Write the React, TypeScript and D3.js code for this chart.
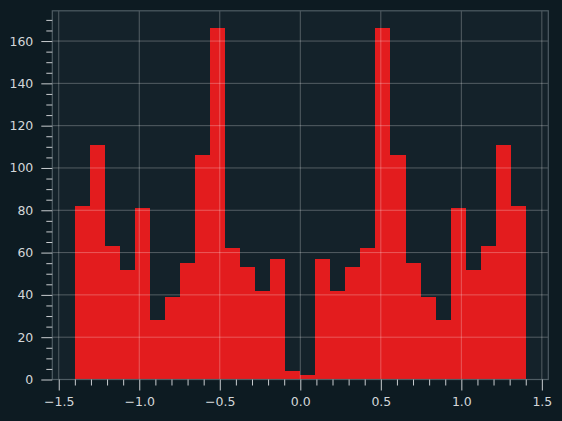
import React, { useRef, useEffect } from "react"
import * as d3 from "d3"

// histogram counts, 30 equal bins between binStart and binEnd
const counts = [
  82, 111, 63, 52, 81, 28, 39, 55, 106, 166, 62, 53, 42, 57, 4,
  2, 57, 42, 53, 62, 166, 106, 55, 39, 28, 81, 52, 63, 111, 82,
]
const binStart = -1.4
const binEnd = 1.4

const xTicks = [-1.5, -1.0, -0.5, 0.0, 0.5, 1.0, 1.5]
const yTicks = [0, 20, 40, 60, 80, 100, 120, 140, 160]
const xMinorStep = 0.1
const yMinorStep = 5

const xDomain: [number, number] = [-1.54, 1.54]
const yDomain: [number, number] = [0, 174.3]

export default function App() {
  const svgRef = useRef<SVGSVGElement>(null)
  const width = 562
  const height = 421

  useEffect(() => {
    if (!svgRef.current) return
    const svg = d3.select(svgRef.current)
    svg.selectAll("*").remove()

    const left = 52.3
    const right = 548.3
    const top = 10.8
    const bottom = 379.5

    const x = d3.scaleLinear().domain(xDomain).range([left, right])
    const y = d3.scaleLinear().domain(yDomain).range([bottom, top])

    const textColor = "#d3d7d9"
    const tickColor = "#c9cdd0"
    const fontSize = 12.5

    svg.append("rect").attr("width", width).attr("height", height).attr("fill", "#0d1b22")

    svg
      .append("rect")
      .attr("x", left)
      .attr("y", top)
      .attr("width", right - left)
      .attr("height", bottom - top)
      .attr("fill", "#14222a")

    // bars
    const binW = (binEnd - binStart) / counts.length
    svg
      .append("g")
      .selectAll("rect")
      .data(counts)
      .enter()
      .append("rect")
      .attr("x", (_, i) => x(binStart + i * binW))
      .attr("width", (_, i) => x(binStart + (i + 1) * binW) - x(binStart + i * binW))
      .attr("y", (d) => y(d))
      .attr("height", (d) => y(0) - y(d))
      .attr("fill", "#e31c1e")
      .attr("shape-rendering", "crispEdges")

    // grid on top of bars
    const grid = svg.append("g").attr("stroke", "#ffffff").attr("stroke-opacity", 0.3).attr("stroke-width", 0.9)
    grid
      .selectAll(".gx")
      .data(xTicks)
      .enter()
      .append("line")
      .attr("x1", (d) => x(d))
      .attr("x2", (d) => x(d))
      .attr("y1", top)
      .attr("y2", bottom)
    grid
      .selectAll(".gy")
      .data(yTicks)
      .enter()
      .append("line")
      .attr("x1", left)
      .attr("x2", right)
      .attr("y1", (d) => y(d))
      .attr("y2", (d) => y(d))

    // spines
    svg
      .append("rect")
      .attr("x", left)
      .attr("y", top)
      .attr("width", right - left)
      .attr("height", bottom - top)
      .attr("fill", "none")
      .attr("stroke", "#4f5d64")
      .attr("stroke-width", 1.2)

    const xMinor = d3.range(-15, 16).map((k) => k * xMinorStep).filter((v) => !xTicks.some((t) => Math.abs(t - v) < 1e-9))
    const yMinor = d3.range(0, 35).map((k) => k * yMinorStep).filter((v) => v % 20 !== 0 && v <= yDomain[1])

    const styleAxis = (g: d3.Selection<SVGGElement, unknown, null, undefined>) => {
      g.attr("font-family", "DejaVu Sans").attr("font-size", fontSize)
      g.select(".domain").remove()
      g.selectAll("line").attr("stroke", tickColor).attr("stroke-width", 1)
      g.selectAll("text")
        .attr("fill", textColor)
        .style("font-family", "'DejaVu Sans', sans-serif")
        .style("font-size", `${fontSize}px`)
    }

    svg
      .append("g")
      .attr("transform", `translate(0,${bottom})`)
      .call(d3.axisBottom(x).tickValues(xTicks).tickFormat(d3.format(".1f")).tickSize(11).tickPadding(7))
      .call(styleAxis)
    svg
      .append("g")
      .attr("transform", `translate(0,${bottom})`)
      .call(d3.axisBottom(x).tickValues(xMinor).tickFormat(() => "").tickSize(6))
      .call(styleAxis)

    svg
      .append("g")
      .attr("transform", `translate(${left},0)`)
      .call(d3.axisLeft(y).tickValues(yTicks).tickFormat(d3.format("d")).tickSize(11).tickPadding(8))
      .call(styleAxis)
    svg
      .append("g")
      .attr("transform", `translate(${left},0)`)
      .call(d3.axisLeft(y).tickValues(yMinor).tickFormat(() => "").tickSize(6))
      .call(styleAxis)
  }, [])

  return (
    <svg
      ref={svgRef}
      width={width}
      height={height}
      style={{ position: "absolute", left: 0, top: 0, display: "block" }}
    ></svg>
  )
}
